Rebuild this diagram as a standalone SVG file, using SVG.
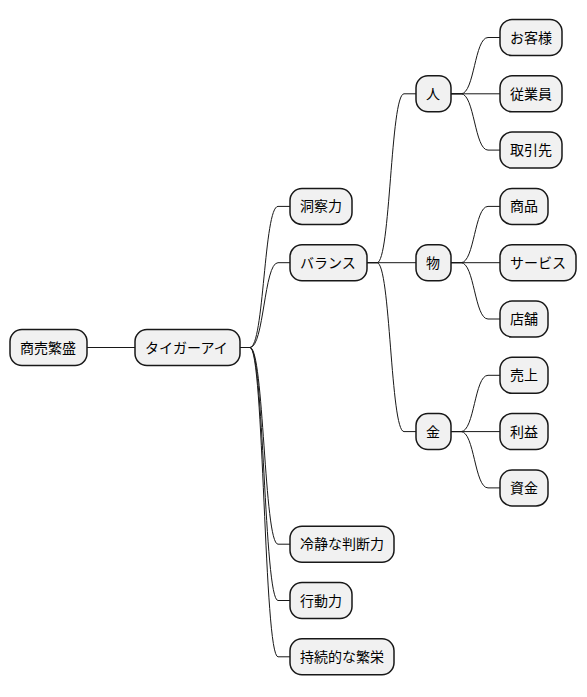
<svg xmlns="http://www.w3.org/2000/svg" width="587" height="697" viewBox="0 0 587 697">
<style>
.n rect{fill:#F1F1F1;stroke:#181818;stroke-width:1.5}
.n text{font-family:"Noto Sans CJK JP","Noto Sans",sans-serif;font-size:14px;fill:#000}
#edges path{fill:none;stroke:#181818;stroke-width:1}
</style>
<rect width="587" height="697" fill="#FFFFFF"/>
<g id="edges">
<path d="M87,347.5 H135"/>
<path d="M240,347.5 H250 C264,347.5 264,206.4 278,206.4 H290"/>
<path d="M240,347.5 H250 C264,347.5 264,262.7 278,262.7 H290"/>
<path d="M240,347.5 H250 C264,347.5 264,544.2 278,544.2 H290"/>
<path d="M240,347.5 H250 C264,347.5 264,600.5 278,600.5 H290"/>
<path d="M240,347.5 H250 C264,347.5 264,656.8 278,656.8 H290"/>
<path d="M367,262.7 H377 C390.5,262.7 390.5,93.8 404,93.8 H416"/>
<path d="M367,262.7 H416"/>
<path d="M367,262.7 H377 C390.5,262.7 390.5,431.6 404,431.6 H416"/>
<path d="M451,93.8 H461 C474.5,93.8 474.5,37.5 488,37.5 H500"/>
<path d="M451,93.8 H500"/>
<path d="M451,93.8 H461 C474.5,93.8 474.5,150.1 488,150.1 H500"/>
<path d="M451,262.7 H461 C474.5,262.7 474.5,206.4 488,206.4 H500"/>
<path d="M451,262.7 H500"/>
<path d="M451,262.7 H461 C474.5,262.7 474.5,319 488,319 H500"/>
<path d="M451,431.6 H461 C474.5,431.6 474.5,375.3 488,375.3 H500"/>
<path d="M451,431.6 H500"/>
<path d="M451,431.6 H461 C474.5,431.6 474.5,487.9 488,487.9 H500"/>
</g>
<g id="n1" class="n"><rect x="10" y="329.5" width="77" height="36" rx="12"/><text x="20" y="352.5">商売繁盛</text></g>
<g id="n2" class="n"><rect x="135" y="329.5" width="105" height="36" rx="12"/><text x="145" y="352.5">タイガーアイ</text></g>
<g id="n3" class="n"><rect x="290" y="188.4" width="62" height="36" rx="12"/><text x="300" y="211.4">洞察力</text></g>
<g id="n4" class="n"><rect x="290" y="244.7" width="77" height="36" rx="12"/><text x="300" y="267.7">バランス</text></g>
<g id="n5" class="n"><rect x="416" y="75.8" width="35" height="36" rx="12"/><text x="426" y="98.8">人</text></g>
<g id="n6" class="n"><rect x="500" y="19.5" width="62" height="36" rx="12"/><text x="510" y="42.5">お客様</text></g>
<g id="n7" class="n"><rect x="500" y="75.8" width="62" height="36" rx="12"/><text x="510" y="98.8">従業員</text></g>
<g id="n8" class="n"><rect x="500" y="132.1" width="62" height="36" rx="12"/><text x="510" y="155.1">取引先</text></g>
<g id="n9" class="n"><rect x="416" y="244.7" width="35" height="36" rx="12"/><text x="426" y="267.7">物</text></g>
<g id="n10" class="n"><rect x="500" y="188.4" width="48" height="36" rx="12"/><text x="510" y="211.4">商品</text></g>
<g id="n11" class="n"><rect x="500" y="244.7" width="76" height="36" rx="12"/><text x="510" y="267.7">サービス</text></g>
<g id="n12" class="n"><rect x="500" y="301" width="48" height="36" rx="12"/><text x="510" y="324">店舗</text></g>
<g id="n13" class="n"><rect x="416" y="413.6" width="35" height="36" rx="12"/><text x="426" y="436.6">金</text></g>
<g id="n14" class="n"><rect x="500" y="357.3" width="48" height="36" rx="12"/><text x="510" y="380.3">売上</text></g>
<g id="n15" class="n"><rect x="500" y="413.6" width="48" height="36" rx="12"/><text x="510" y="436.6">利益</text></g>
<g id="n16" class="n"><rect x="500" y="469.9" width="48" height="36" rx="12"/><text x="510" y="492.9">資金</text></g>
<g id="n17" class="n"><rect x="290" y="526.2" width="104" height="36" rx="12"/><text x="300" y="549.2">冷静な判断力</text></g>
<g id="n18" class="n"><rect x="290" y="582.5" width="62" height="36" rx="12"/><text x="300" y="605.5">行動力</text></g>
<g id="n19" class="n"><rect x="290" y="638.8" width="104" height="36" rx="12"/><text x="300" y="661.8">持続的な繁栄</text></g>
</svg>
